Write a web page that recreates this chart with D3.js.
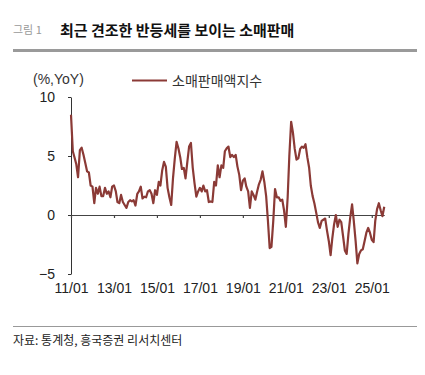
<!DOCTYPE html>
<html>
<head>
<meta charset="utf-8">
<script src="https://cdn.jsdelivr.net/npm/d3@7"></script>
<style>
  body { margin: 0; background: #fff; }
  svg { display: block; }
</style>
</head>
<body>
<script>
// 소매판매액지수 YoY (%), 2011/01 ~ 2025/08
var startMonth = "2011-01";
var values = [
  8.5, 5.4, 4.9, 4.3, 3.2, 5.5, 5.7, 5.1, 4.4, 3.7, 3.6, 2.5,      // 2011
  2.4, 1.0, 2.3, 1.8, 2.4, 1.6, 1.6, 2.3, 1.8, 2.0, 1.5, 2.4,      // 2012
  2.5, 2.0, 1.1, 1.0, 1.7, 1.1, 0.85, 0.6, 1.1, 1.25, 1.15, 1.25,  // 2013
  0.8, 1.8, 2.0, 2.4, 1.4, 1.55, 1.5, 2.0, 2.1, 1.8, 1.0, 2.1,     // 2014
  1.7, 2.8, 2.5, 3.8, 4.5, 4.1, 2.3, 1.5, 0.85, 3.1, 4.8, 6.2,     // 2015
  5.65, 4.9, 3.9, 4.0, 3.1, 4.5, 5.8, 6.1, 4.0, 2.7, 1.55, 2.0,    // 2016
  2.3, 2.0, 2.5, 2.0, 2.1, 1.1, 1.15, 1.1, 2.8, 2.5, 4.2, 3.2,     // 2017
  4.2, 4.0, 5.4, 5.65, 5.8, 4.9, 5.1, 4.9, 5.1, 4.1, 3.4, 2.1,     // 2018
  2.9, 3.1, 2.4, 2.0, 0.6, 2.0, 1.7, 1.3, 2.0, 2.6, 3.0, 3.7,      // 2019
  2.8, 1.6, -0.4, -2.8, -2.7, -0.5, 2.2, 1.5, 1.5, 1.2, 1.3, 0.4,  // 2020
  -1.0, 1.5, 5.0, 7.9, 7.0, 5.6, 4.7, 4.8, 5.6, 5.8, 5.7, 6.0,     // 2021
  4.9, 4.0, 2.5, 1.6, 1.0, 0.2, -0.6, -1.1, -0.5, -0.4, -0.3, -1.3, // 2022
  -2.2, -3.4, -2.0, -0.8, 0.0, -1.0, -0.4, -0.6, -1.8, -3.0, -3.3, -1.6, // 2023
  -0.2, 0.9, -0.5, -2.2, -4.1, -3.3, -3.0, -2.9, -2.2, -1.5, -1.1, -1.5, // 2024
  -2.1, -2.3, -0.5, 0.5, 1.0, 0.4, -0.1, 0.7                         // 2025
];
var xTickDates = ["2011-01","2013-01","2015-01","2017-01","2019-01","2021-01","2023-01","2025-01"];
var xTickLabels = ["11/01","13/01","15/01","17/01","19/01","21/01","23/01","25/01"];
var yTicks = [-5, 0, 5, 10];
var seriesName = "소매판매액지수";

async function main(){

	var w = 425;
	var h = 375;
	var lineColor = "#8b3a36";
	var parse = d3.timeParse("%Y-%m");

	var start = parse(startMonth);
	var data = values.map(function(v, i){ return [d3.timeMonth.offset(start, i), v]; });

	var svg = d3.select("body")
				.append("svg")
				.attr("width", w)
				.attr("height", h);

	// header
	svg.append("text")
		.attr("x", 13).attr("y", 34)
		.attr("font-family", "Noto Sans CJK KR")
		.attr("font-size", 11)
		.attr("fill", "#999")
		.text("그림 1");
	svg.append("text")
		.attr("x", 60).attr("y", 35.5)
		.attr("font-family", "Noto Sans CJK KR")
		.attr("font-size", 15)
		.attr("font-weight", "bold")
		.attr("fill", "#111")
		.text("최근 견조한 반등세를 보이는 소매판매");
	svg.append("rect")
		.attr("x", 13).attr("y", 49)
		.attr("width", 404).attr("height", 3)
		.attr("fill", "#9a9a9a");

	var xScale = d3.scaleTime()
					.domain([start, data[data.length - 1][0]])
					.range([71, 71 + (values.length - 1) * 1.79]);

	var yScale = d3.scaleLinear()
					.domain([-5, 10])
					.range([274, 97]);

	// y axis
	var yAxis = d3.axisLeft(yScale)
					.tickValues(yTicks)
					.tickSize(3)
					.tickSizeOuter(0)
					.tickPadding(13)
					.tickFormat(function(d){ return d < 0 ? "\u2212" + Math.abs(d) : d; });
	var gy = svg.append("g")
		.attr("transform", "translate(71,0)")
		.call(yAxis);
	gy.selectAll("text")
		.attr("font-family", "Liberation Sans, Arial, sans-serif")
		.attr("font-size", 14)
		.attr("fill", "#222");
	gy.selectAll("line, path").attr("stroke", "#333");

	// zero line with ticks
	var xAxis = d3.axisBottom(xScale)
					.tickValues(xTickDates.map(parse))
					.tickSize(3)
					.tickSizeOuter(0)
					.tickFormat("");
	var gx = svg.append("g")
		.attr("transform", "translate(0," + yScale(0) + ")")
		.call(xAxis);
	gx.selectAll("line, path").attr("stroke", "#444").attr("stroke-width", 1.2);

	// x labels under the plot
	var xLabelAxis = d3.axisBottom(xScale)
					.tickValues(xTickDates.map(parse))
					.tickSize(0)
					.tickPadding(9)
					.tickFormat(function(d, i){ return xTickLabels[i]; });
	var gxl = svg.append("g")
		.attr("transform", "translate(0," + yScale(-5) + ")")
		.call(xLabelAxis);
	gxl.select(".domain").remove();
	gxl.selectAll("text")
		.attr("font-family", "Liberation Sans, Arial, sans-serif")
		.attr("font-size", 14)
		.attr("fill", "#222");

	// series
	var line = d3.line()
				.x(function(d){ return xScale(d[0]); })
				.y(function(d){ return yScale(d[1]); });
	svg.append("path")
		.datum(data)
		.attr("d", line)
		.attr("fill", "none")
		.attr("stroke", lineColor)
		.attr("stroke-width", 2.2)
		.attr("stroke-linejoin", "round");

	// unit + legend
	svg.append("text")
		.attr("x", 33).attr("y", 84)
		.attr("font-family", "Liberation Sans, Arial, sans-serif")
		.attr("font-size", 14)
		.attr("fill", "#333")
		.text("(%,YoY)");
	svg.append("line")
		.attr("x1", 132).attr("x2", 167)
		.attr("y1", 80.5).attr("y2", 80.5)
		.attr("stroke", lineColor)
		.attr("stroke-width", 2);
	svg.append("text")
		.attr("x", 172).attr("y", 85.5)
		.attr("font-family", "Noto Sans CJK KR")
		.attr("font-size", 14)
		.attr("fill", "#333")
		.text(seriesName);

	// footer
	svg.append("line")
		.attr("x1", 13).attr("x2", 417)
		.attr("y1", 326.5).attr("y2", 326.5)
		.attr("stroke", "#999");
	svg.append("text")
		.attr("x", 13).attr("y", 345)
		.attr("font-family", "Noto Sans CJK KR")
		.attr("font-size", 12)
		.attr("fill", "#222")
		.text("자료: 통계청, 흥국증권 리서치센터");
};

main();
</script>
</body>
</html>
